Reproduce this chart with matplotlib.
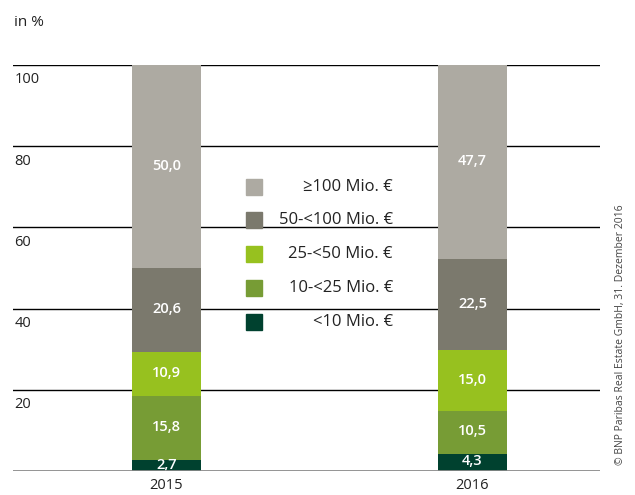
import matplotlib.pyplot as plt
from matplotlib.patches import Rectangle

plt.rcParams['font.family'] = ['Open Sans', 'DejaVu Sans']

# data
years = ['2015', '2016']
classes = ['<10 Mio. €', '10-<25 Mio. €', '25-<50 Mio. €', '50-<100 Mio. €', '≥100 Mio. €']
shares = {
    '<10 Mio. €': [2.7, 4.3],
    '10-<25 Mio. €': [15.8, 10.5],
    '25-<50 Mio. €': [10.9, 15.0],
    '50-<100 Mio. €': [20.6, 22.5],
    '≥100 Mio. €': [50.0, 47.7],
}
colors = ['#00412f', '#779c35', '#97c11f', '#7b796d', '#adaaa2']
yticks = [20, 40, 60, 80, 100]

fig = plt.figure(figsize=(6.35, 4.95), dpi=100)
ax = fig.add_axes([13 / 635, 24 / 495, 587 / 635, 406 / 495])

x = [0, 1]
bottom = [0, 0]
for cls, col in zip(classes, colors):
    vals = shares[cls]
    ax.bar(x, vals, width=0.2255, bottom=bottom, color=col, zorder=2)
    for xi, b, v in zip(x, bottom, vals):
        ax.text(xi, b + v / 2 + 0.2, f"{v:.1f}".replace('.', ','), ha='center', va='center',
                color='white', fontsize=10.5, fontweight='semibold', zorder=3)
    bottom = [b + v for b, v in zip(bottom, vals)]

# gridlines + labels
for t in yticks:
    ax.axhline(t, color='black', lw=1.0, zorder=1)
    ax.text(0.002, t - 1.8, str(t), transform=ax.get_yaxis_transform(),
            ha='left', va='top', fontsize=10.5, color='#222222')
ax.axhline(0, color='#8a8a8a', lw=2, zorder=3)

ax.set_xlim(-0.5016, 1.4167)
ax.set_ylim(0, 100)
ax.set_xticks(x)
ax.set_xticklabels(years, fontsize=10.5, color='#222222')
ax.tick_params(axis='x', length=0, pad=5)
ax.set_yticks([])
for s in ax.spines.values():
    s.set_visible(False)

# legend, drawn by hand
leg_y = [187, 220, 254, 288, 322]
for cls, col, yy in zip(classes[::-1], colors[::-1], leg_y):
    fig.patches.append(Rectangle((246 / 635, 1 - (yy + 8) / 495), 16 / 635, 16 / 495,
                                 transform=fig.transFigure, color=col))
    fig.text(393 / 635, 1 - yy / 495, cls, ha='right', va='center', fontsize=12, color='#222222')

fig.text(14 / 635, 1 - 22 / 495, 'in %', ha='left', va='center', fontsize=11, color='#222222')
fig.text(620 / 635, 1 - 335 / 495, '© BNP Paribas Real Estate GmbH, 31. Dezember 2016',
         rotation=90, ha='center', va='center', fontsize=7.5, color='#444444')

fig.savefig('out.png', dpi=100)
